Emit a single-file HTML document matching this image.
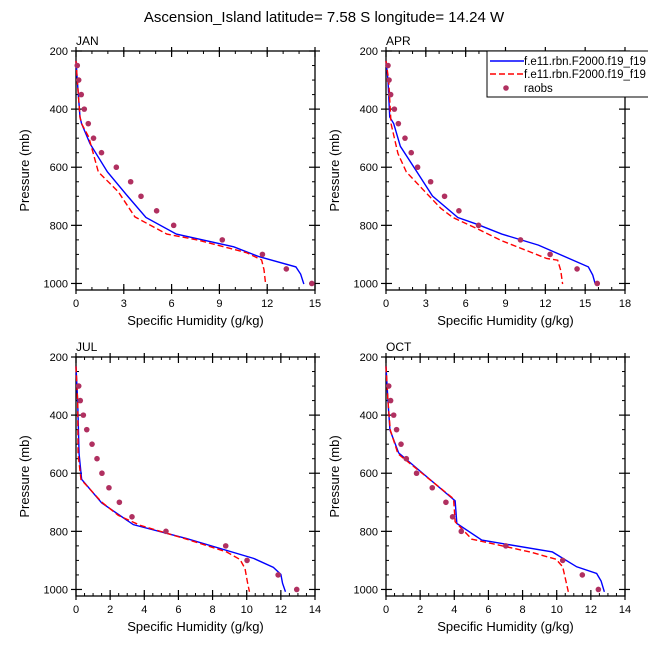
<!DOCTYPE html>
<html><head><meta charset="utf-8"><style>
body{margin:0;background:#fff;}
svg{font-family:"Liberation Sans",Arial,sans-serif;}
</style></head><body>
<svg id="c" width="648" height="649" viewBox="0 0 648 649" xmlns="http://www.w3.org/2000/svg">
<text x="324" y="22" text-anchor="middle" font-size="15">Ascension_Island  latitude= 7.58 S longitude= 14.24 W</text>
</svg>
<script>
const obsP = [250,300,350,400,450,500,550,600,650,700,750,800,850,900,950,1000];
const obsP2 = [300,350,400,450,500,550,600,650,700,750,800,850,900,950,1000];
const janObs = [0.08,0.17,0.33,0.52,0.77,1.1,1.6,2.53,3.43,4.08,5.06,6.13,9.18,11.7,13.2,14.8];
const janBlueP = [234,300,427,450,519,616,702,773,830,874,908,943,968,1002];
const janBlueX = [0,0.08,0.25,0.35,0.88,1.97,3.28,4.39,6.3,9.9,11.5,13.8,14.1,14.3];
const janRedP = [234,300,427,450,496,616,685,771,830,850,894,919,953,1002];
const janRedX = [0,0.08,0.25,0.35,0.8,1.4,2.66,3.7,5.7,7.6,10.7,11.65,11.8,11.9];
const aprObs = [0.15,0.23,0.35,0.63,0.93,1.43,1.9,2.38,3.36,4.41,5.49,6.97,10.13,12.36,14.39,15.91];
const aprBlueP = [234,300,427,450,528,616,699,773,796,830,868,943,971,1002];
const aprBlueX = [0,0.15,0.28,0.58,1.08,2.33,3.5,5.41,6.84,8.72,11.48,15.24,15.57,15.76];
const aprRedP = [234,300,450,553,616,679,742,773,811,853,914,920,955,1002];
const aprRedX = [0,0.2,0.38,0.9,1.53,2.83,4.14,5.04,6.84,8.72,12.1,12.93,13.16,13.3];
const julObs = [0.16,0.25,0.43,0.63,0.94,1.23,1.52,1.93,2.54,3.28,5.27,8.77,10.02,11.84,12.93];
const julBlueP = [232,356,533,621,702,777,825,893,924,948,979,1008];
const julBlueX = [0,0.1,0.18,0.33,1.5,3.36,6.48,10.4,11.56,12.0,12.1,12.27];
const julRedP = [232,356,533,621,699,745,779,827,871,897,928,974,1008];
const julRedX = [0,0.1,0.12,0.29,1.5,2.48,3.75,6.48,8.83,9.61,9.9,10.04,10.16];
const octObs = [0.16,0.27,0.45,0.62,0.88,1.19,1.79,2.71,3.51,3.9,4.41,7.02,10.35,11.5,12.44];
const octBlueP = [232,356,451,530,695,773,830,871,922,945,971,1008];
const octBlueX = [0,0.12,0.23,0.74,4.05,4.15,5.61,9.75,11.17,12.34,12.6,12.79];
const octRedP = [232,356,451,533,688,767,827,871,896,922,974,1008];
const octRedX = [0,0.12,0.25,0.7,3.96,4.05,5.03,8.44,9.96,10.35,10.55,10.68];
const yTicks = [200,400,600,800,1000];
const janXTicks = [0,3,6,9,12,15];
const aprXTicks = [0,3,6,9,12,15,18];
const julXTicks = [0,2,4,6,8,10,12,14];
const octXTicks = [0,2,4,6,8,10,12,14];
const legendLabels = ["f.e11.rbn.F2000.f19_f19","f.e11.rbn.F2000.f19_f19","raobs"];

const svg = document.getElementById('c');
const NS = 'http://www.w3.org/2000/svg';
function mk(tag, attrs, parent){const e=document.createElementNS(NS,tag);for(const k in attrs)e.setAttribute(k,attrs[k]);(parent||svg).appendChild(e);return e;}

function panel(name, L, T, xmax, xTicks, minorStep, obsPs, obs, bP, bX, rP, rX){
  const R = L+239, B = T+239;
  const pMin=200, pMax=1022.5;
  const xs = v => L + v/xmax*(R-L);
  const ys = p => T + (p-pMin)/(pMax-pMin)*(B-T);
  const g = mk('g',{});
  
  
  const lbl = mk('text',{x:L,y:T-6,'font-size':12},g); lbl.textContent=name.toUpperCase();
  
  
  for(let p=250;p<1022;p+=50){ if(p%200===0) continue;
    mk('line',{x1:L,x2:L+3,y1:ys(p),y2:ys(p),stroke:'#000','stroke-width':1},g);
    mk('line',{x1:R,x2:R-3,y1:ys(p),y2:ys(p),stroke:'#000','stroke-width':1},g);}
  for(let v=minorStep; v<xmax; v+=minorStep){
    mk('line',{x1:xs(v),x2:xs(v),y1:T,y2:T+3,stroke:'#000','stroke-width':1},g);
    mk('line',{x1:xs(v),x2:xs(v),y1:B,y2:B-3,stroke:'#000','stroke-width':1},g);}
  yTicks.forEach(p=>{
    mk('line',{x1:L-5,x2:L+6,y1:ys(p),y2:ys(p),stroke:'#000','stroke-width':1.2},g);
    mk('line',{x1:R-6,x2:R+5,y1:ys(p),y2:ys(p),stroke:'#000','stroke-width':1.2},g);
    const t=mk('text',{x:L-8,y:ys(p)+4,'font-size':11,'text-anchor':'end'},g); t.textContent=p;
    
    
  });
  xTicks.forEach(v=>{
    mk('line',{x1:xs(v),x2:xs(v),y1:B+4,y2:B-6,stroke:'#000','stroke-width':1.2},g);
    mk('line',{x1:xs(v),x2:xs(v),y1:T-4,y2:T+6,stroke:'#000','stroke-width':1.2},g);
    const t=mk('text',{x:xs(v),y:B+17,'font-size':11,'text-anchor':'middle'},g); t.textContent=v;
    
    
  });
  mk('rect',{x:L,y:T,width:R-L,height:B-T,fill:'none',stroke:'#000','stroke-width':1.3},g);
  const xt=mk('text',{x:(L+R)/2,y:B+35,'font-size':13,'text-anchor':'middle'},g); xt.textContent='Specific Humidity (g/kg)';
  
  
  const yt=mk('text',{x:0,y:0,'font-size':13,'text-anchor':'middle',transform:`translate(${L-47},${(T+B)/2}) rotate(-90)`},g); yt.textContent='Pressure (mb)';
  
  
  const pb = mk('polyline',{points:bX.map((v,i)=>xs(v)+','+ys(bP[i])).join(' '),fill:'none',stroke:'#0000ff','stroke-width':1.4},g);
  
  
  const pr = mk('polyline',{points:rX.map((v,i)=>xs(v)+','+ys(rP[i])).join(' '),fill:'none',stroke:'#ff0000','stroke-width':1.4,'stroke-dasharray':'6,3'},g);
  
  
  obs.forEach((v,i)=>{
    const c=mk('circle',{cx:xs(v),cy:ys(obsPs[i]),r:2.8,fill:'#b03060'},g);
    
    
  });
}
panel('jan',76,51,15,janXTicks,1,obsP,janObs,janBlueP,janBlueX,janRedP,janRedX);
panel('apr',386,51,18,aprXTicks,1,obsP,aprObs,aprBlueP,aprBlueX,aprRedP,aprRedX);
panel('jul',76,357,14,julXTicks,0.5,obsP2,julObs,julBlueP,julBlueX,julRedP,julRedX);
panel('oct',386,357,14,octXTicks,0.5,obsP2,octObs,octBlueP,octBlueX,octRedP,octRedX);

const lg = mk('g',{});


mk('rect',{x:487,y:51,width:170,height:46,fill:'#fff',stroke:'#000','stroke-width':1},lg);
mk('line',{x1:490,x2:524,y1:61,y2:61,stroke:'#0000ff','stroke-width':1.4},lg);
mk('line',{x1:490,x2:524,y1:74,y2:74,stroke:'#ff0000','stroke-width':1.4,'stroke-dasharray':'6,3'},lg);
mk('circle',{cx:506,cy:88,r:2.8,fill:'#b03060'},lg);
[65,78,92].forEach((y,i)=>{const t=mk('text',{x:524,y:y,'font-size':11.5},lg);t.textContent=legendLabels[i];
  
  });
</script>
</body></html>
